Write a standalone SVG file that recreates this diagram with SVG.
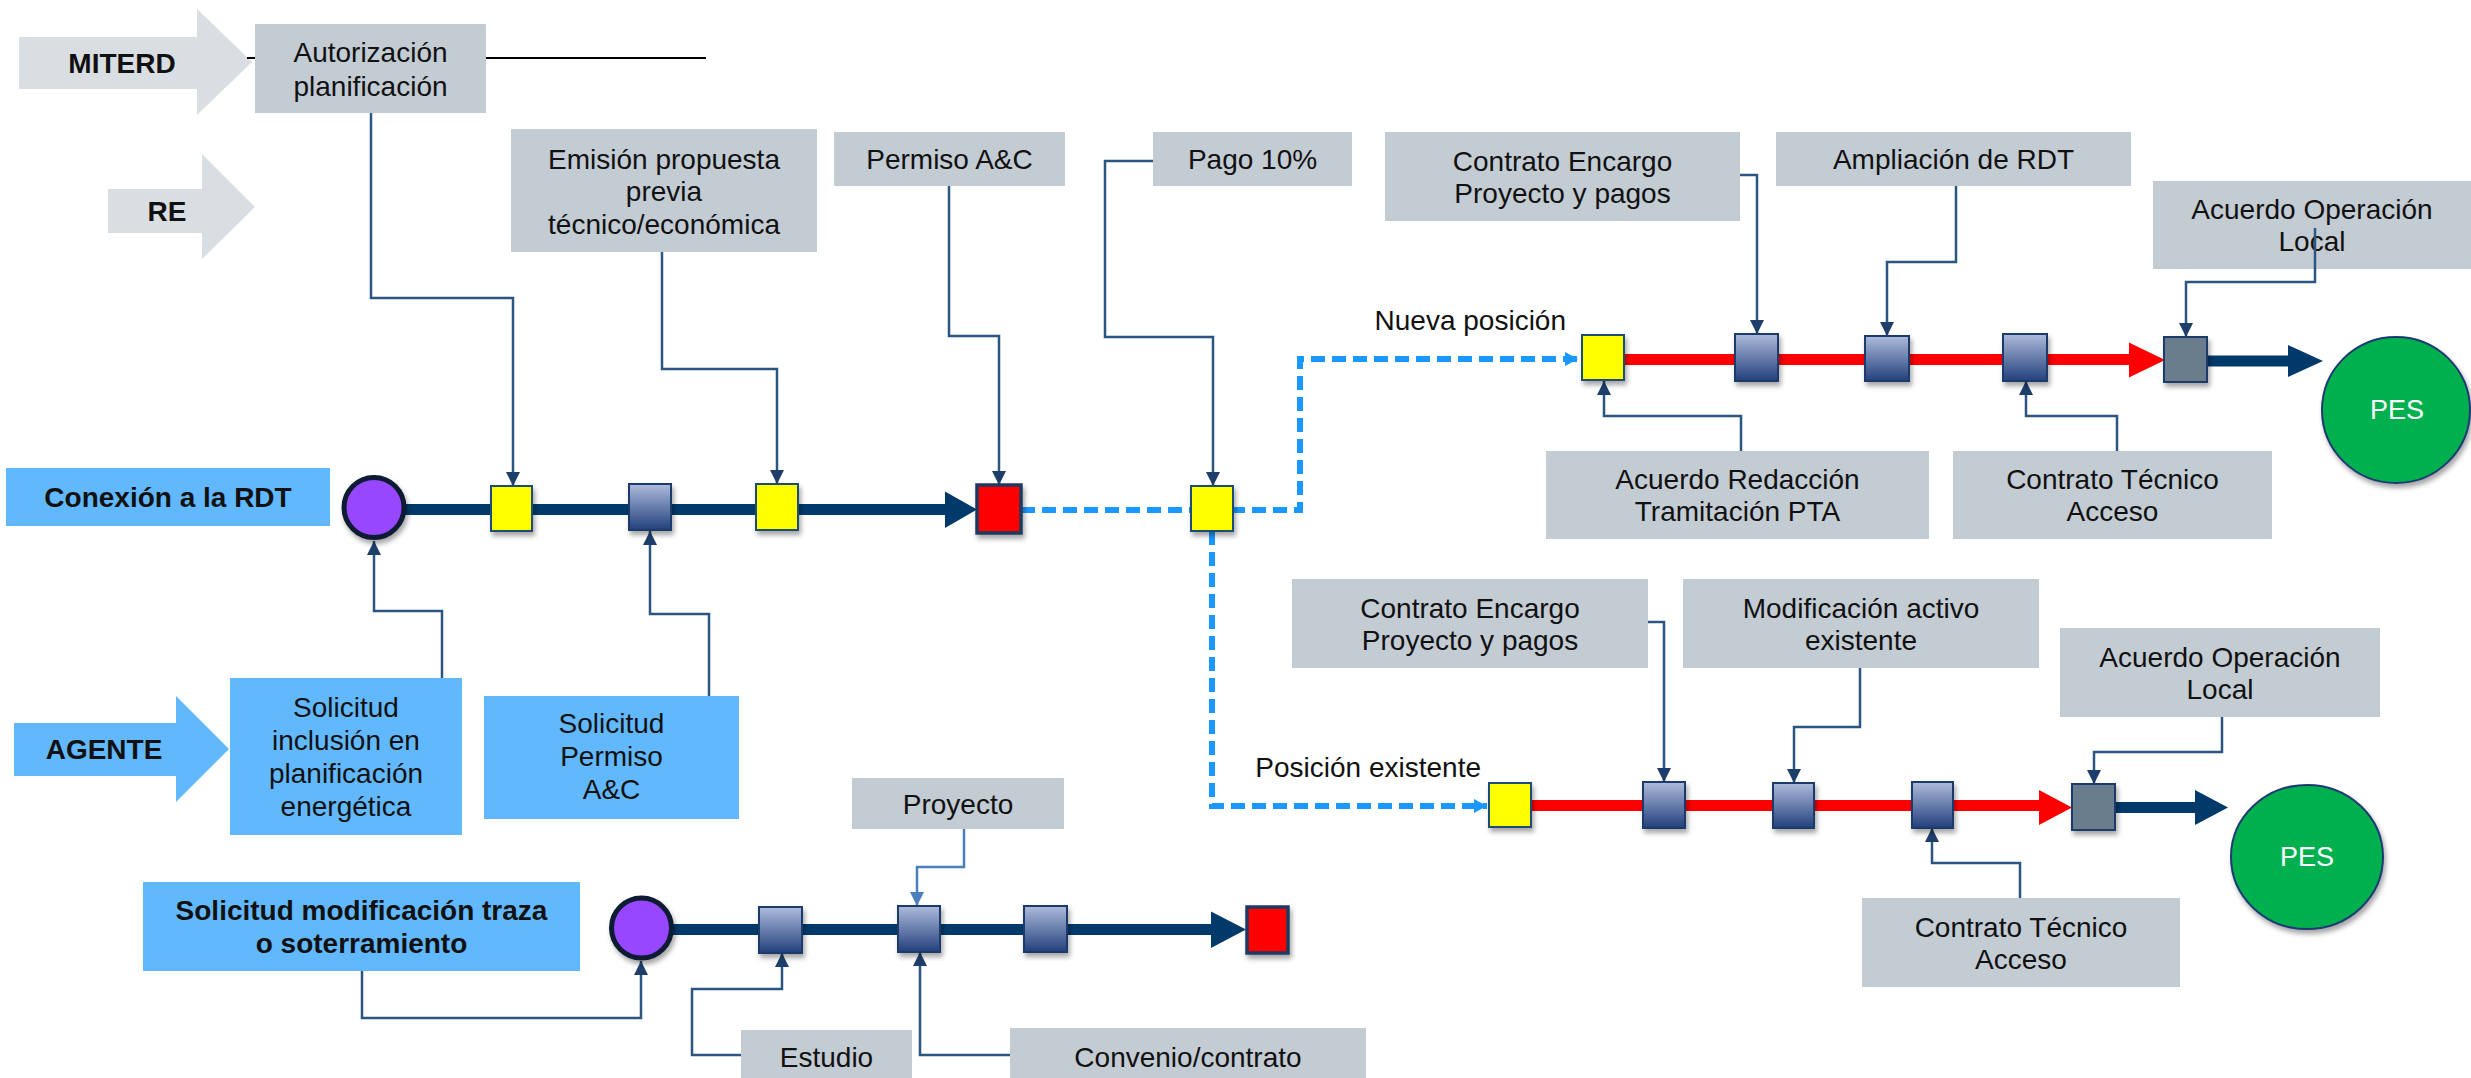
<svg xmlns="http://www.w3.org/2000/svg" width="2471" height="1078" viewBox="0 0 2471 1078">
<style>
text{font-family:"Liberation Sans",Arial,sans-serif;font-size:28px;fill:#111;text-anchor:middle}
.b{font-weight:bold}
.gbox{fill:#C3CBD3}
.bbox{fill:#62B8FD}
.garrow{fill:#D9DEE3}
.conn{fill:none;stroke:#2B5681;stroke-width:2.5;marker-end:url(#ah)}
.connl{fill:none;stroke:#4A7EBF;stroke-width:2.5;marker-end:url(#ahl)}
.yel{fill:#FFFF00;stroke:#1F4E79;stroke-width:2}
.gsq{fill:url(#gg);stroke:#1F3A6B;stroke-width:2}
.ssq{fill:#6A7D8D;stroke:#1F3A6B;stroke-width:2}
.rsq{fill:#FF0000;stroke:#1F3A60;stroke-width:3.5}
.navy{stroke:#003A6B;stroke-width:11;fill:none}
.red{stroke:#FF0000;stroke-width:11;fill:none}
.dash{stroke:#1A98FF;stroke-width:6;fill:none;stroke-dasharray:14 7}
</style>
<defs>
<linearGradient id="gg" x1="0" y1="0" x2="0" y2="1">
<stop offset="0" stop-color="#AEBBDC"/>
<stop offset="1" stop-color="#22407C"/>
</linearGradient>
<filter id="sh" x="-30%" y="-30%" width="160%" height="170%">
<feDropShadow dx="2" dy="4" stdDeviation="2.5" flood-color="#000" flood-opacity="0.35"/>
</filter>
<marker id="ah" markerUnits="userSpaceOnUse" markerWidth="16" markerHeight="16" refX="14" refY="7" orient="auto">
<path d="M0,0 L14,7 L0,14 z" fill="#1E3F6B"/>
</marker>
<marker id="ahl" markerUnits="userSpaceOnUse" markerWidth="16" markerHeight="16" refX="14" refY="7" orient="auto">
<path d="M0,0 L14,7 L0,14 z" fill="#4A7EBF"/>
</marker>
<marker id="ahd" markerUnits="userSpaceOnUse" markerWidth="16" markerHeight="16" refX="13" refY="7" orient="auto">
<path d="M0,0 L13,7 L0,14 z" fill="#1A98FF"/>
</marker>
</defs>

<!-- actor arrows -->
<g id="miterd">
<polygon class="garrow" points="19,37 197,37 197,9 252,62 197,115 197,89 19,89"/>
<text class="b" x="122" y="73">MITERD</text>
</g>
<g id="re">
<polygon class="garrow" points="108,189 202,189 202,154 255,207 202,259 202,233 108,233"/>
<text class="b" x="167" y="221">RE</text>
</g>
<g id="agente">
<polygon class="bbox" points="14,723 176,723 176,696 229,749 176,802 176,776 14,776"/>
<text class="b" x="104" y="759">AGENTE</text>
</g>

<line x1="247" y1="58" x2="706" y2="58" stroke="#000" stroke-width="1.8"/>

<!-- label boxes -->
<g id="autorizacion"><rect class="gbox" x="255" y="24" width="231" height="89"/>
<text x="370.5" y="62">Autorización</text><text x="370.5" y="96">planificación</text></g>
<g id="emision"><rect class="gbox" x="511" y="129" width="306" height="123"/>
<text x="664" y="168.5">Emisión propuesta</text><text x="664" y="201">previa</text><text x="664" y="233.5">técnico/económica</text></g>
<g id="permiso"><rect class="gbox" x="834" y="132" width="231" height="54"/>
<text x="949.5" y="169">Permiso A&amp;C</text></g>
<g id="pago"><rect class="gbox" x="1153" y="132" width="199" height="54"/>
<text x="1252.5" y="169">Pago 10%</text></g>
<g id="encargo1"><rect class="gbox" x="1385" y="132" width="355" height="89"/>
<text x="1562.5" y="170.5">Contrato Encargo</text><text x="1562.5" y="202.5">Proyecto y pagos</text></g>
<g id="ampliacion"><rect class="gbox" x="1776" y="132" width="355" height="54"/>
<text x="1953.5" y="169">Ampliación de RDT</text></g>
<g id="acuerdoop1"><rect class="gbox" x="2153" y="181" width="318" height="88"/>
<text x="2312" y="219">Acuerdo Operación</text><text x="2312" y="251">Local</text></g>
<g id="redaccion"><rect class="gbox" x="1546" y="451" width="383" height="88"/>
<text x="1737.5" y="489">Acuerdo Redacción</text><text x="1737.5" y="521">Tramitación PTA</text></g>
<g id="tecnico1"><rect class="gbox" x="1953" y="451" width="319" height="88"/>
<text x="2112.5" y="489">Contrato Técnico</text><text x="2112.5" y="521">Acceso</text></g>
<g id="encargo2"><rect class="gbox" x="1292" y="579" width="356" height="89"/>
<text x="1470" y="617.5">Contrato Encargo</text><text x="1470" y="649.5">Proyecto y pagos</text></g>
<g id="modificacion"><rect class="gbox" x="1683" y="579" width="356" height="89"/>
<text x="1861" y="617.5">Modificación activo</text><text x="1861" y="649.5">existente</text></g>
<g id="acuerdoop2"><rect class="gbox" x="2060" y="628" width="320" height="89"/>
<text x="2220" y="666.5">Acuerdo Operación</text><text x="2220" y="698.5">Local</text></g>
<g id="tecnico2"><rect class="gbox" x="1862" y="898" width="318" height="89"/>
<text x="2021" y="936.5">Contrato Técnico</text><text x="2021" y="968.5">Acceso</text></g>
<g id="proyecto"><rect class="gbox" x="852" y="778" width="212" height="51"/>
<text x="958" y="813.5">Proyecto</text></g>
<g id="estudio"><rect class="gbox" x="741" y="1030" width="171" height="50"/>
<text x="826.5" y="1067">Estudio</text></g>
<g id="convenio"><rect class="gbox" x="1010" y="1028" width="356" height="52"/>
<text x="1188" y="1067">Convenio/contrato</text></g>

<g id="conexion"><rect class="bbox" x="6" y="468" width="324" height="58"/>
<text class="b" x="168" y="507">Conexión a la RDT</text></g>
<g id="sol-inclusion"><rect class="bbox" x="230" y="678" width="232" height="157"/>
<text x="346" y="717">Solicitud</text><text x="346" y="750">inclusión en</text><text x="346" y="783">planificación</text><text x="346" y="816">energética</text></g>
<g id="sol-permiso"><rect class="bbox" x="484" y="696" width="255" height="123"/>
<text x="611.5" y="733">Solicitud</text><text x="611.5" y="766">Permiso</text><text x="611.5" y="799">A&amp;C</text></g>
<g id="sol-modificacion"><rect class="bbox" x="143" y="882" width="437" height="89"/>
<text class="b" x="361.5" y="920">Solicitud modificación traza</text><text class="b" x="361.5" y="953">o soterramiento</text></g>

<!-- connectors -->
<g id="connectors">
<path class="navy" d="M400,509.5 H948"/>
<polygon points="945,491.5 977,509.5 945,528" fill="#003A6B"/>
<path class="dash" d="M1021,510 H1300 V359 H1578" marker-end="url(#ahd)"/>
<path class="dash" d="M1212,531 V806 H1487" marker-end="url(#ahd)"/>
<path class="red" d="M1624,359.5 H2132"/>
<polygon points="2129,342.5 2165,360 2129,377.5" fill="#FF0000"/>
<path class="navy" d="M2207,361 H2290"/>
<polygon points="2288,345 2323,361 2288,377" fill="#003A6B"/>
<path class="red" d="M1531,805.5 H2041"/>
<polygon points="2039,790 2072,807.5 2039,825" fill="#FF0000"/>
<path class="navy" d="M2115,807.5 H2197"/>
<polygon points="2195,790 2228,807.5 2195,825" fill="#003A6B"/>
<path class="navy" d="M668,929.5 H1214"/>
<polygon points="1211,911.5 1246,929.5 1211,948" fill="#003A6B"/>

<polyline class="conn" points="371,113 371,298 513,298 513,486"/>
<polyline class="conn" points="662,252 662,369 777,369 777,484"/>
<polyline class="conn" points="949,186 949,336 999,336 999,485"/>
<polyline class="conn" points="1153,161 1105,161 1105,337 1213,337 1213,486"/>
<polyline class="conn" points="442,678 442,611 374,611 374,541"/>
<polyline class="conn" points="709,696 709,614 650,614 650,531"/>
<polyline class="conn" points="1740,175 1757,175 1757,334"/>
<polyline class="conn" points="1956,186 1956,262 1887,262 1887,336"/>
<polyline class="conn" points="2315,228 2315,282 2186,282 2186,337"/>
<polyline class="conn" points="1741,451 1741,416 1604,416 1604,381"/>
<polyline class="conn" points="2117,451 2117,416 2026,416 2026,381"/>
<polyline class="conn" points="1648,622 1664,622 1664,782"/>
<polyline class="conn" points="1860,668 1860,727 1794,727 1794,783"/>
<polyline class="conn" points="2222,717 2222,752 2094,752 2094,784"/>
<polyline class="conn" points="2020,898 2020,863 1932,863 1932,828"/>
<polyline class="conn" points="362,971 362,1018 641,1018 641,961"/>
<polyline class="conn" points="741,1055 692,1055 692,989 782,989 782,953"/>
<polyline class="conn" points="1010,1055 920,1055 920,952"/>
<polyline class="connl" points="964,829 964,867 917,867 917,906"/>
</g>

<!-- milestones -->
<g id="start1"><circle cx="374" cy="507.5" r="30" fill="#9747FF" stroke="#0F1A33" stroke-width="5" filter="url(#sh)"/></g>
<g id="start2"><circle cx="641.5" cy="928" r="30" fill="#9747FF" stroke="#0F1A33" stroke-width="5" filter="url(#sh)"/></g>
<g id="y1"><rect class="yel" x="491" y="486" width="41" height="45" filter="url(#sh)"/></g>
<g id="g1"><rect class="gsq" x="629" y="484" width="42" height="46" filter="url(#sh)"/></g>
<g id="y2"><rect class="yel" x="756" y="484" width="42" height="46" filter="url(#sh)"/></g>
<g id="r1"><rect class="rsq" x="977" y="485" width="44" height="48" filter="url(#sh)"/></g>
<g id="y3"><rect class="yel" x="1191" y="486" width="42" height="45" filter="url(#sh)"/></g>
<g id="y4"><rect class="yel" x="1582" y="335" width="42" height="45" filter="url(#sh)"/></g>
<g id="g5"><rect class="gsq" x="1735" y="334" width="43" height="47" filter="url(#sh)"/></g>
<g id="g6"><rect class="gsq" x="1865" y="336" width="44" height="45" filter="url(#sh)"/></g>
<g id="g7"><rect class="gsq" x="2003" y="334" width="44" height="47" filter="url(#sh)"/></g>
<g id="s1"><rect class="ssq" x="2164" y="337" width="43" height="45" filter="url(#sh)"/></g>
<g id="y5"><rect class="yel" x="1489" y="783" width="42" height="44" filter="url(#sh)"/></g>
<g id="g8"><rect class="gsq" x="1643" y="782" width="42" height="46" filter="url(#sh)"/></g>
<g id="g9"><rect class="gsq" x="1773" y="783" width="41" height="45" filter="url(#sh)"/></g>
<g id="g10"><rect class="gsq" x="1912" y="782" width="41" height="46" filter="url(#sh)"/></g>
<g id="s2"><rect class="ssq" x="2072" y="784" width="43" height="46" filter="url(#sh)"/></g>
<g id="g11"><rect class="gsq" x="759" y="907" width="43" height="46" filter="url(#sh)"/></g>
<g id="g12"><rect class="gsq" x="898" y="906" width="42" height="46" filter="url(#sh)"/></g>
<g id="g13"><rect class="gsq" x="1024" y="906" width="43" height="46" filter="url(#sh)"/></g>
<g id="r2"><rect class="rsq" x="1247" y="907" width="41" height="46" filter="url(#sh)"/></g>

<g id="pes1"><ellipse cx="2396" cy="410" rx="74" ry="73" fill="#00B050" stroke="#1F3A70" stroke-width="2" filter="url(#sh)"/>
<text x="2397" y="419" style="fill:#fff;font-size:27px">PES</text></g>
<g id="pes2"><ellipse cx="2307" cy="857" rx="76" ry="72" fill="#00B050" stroke="#1F3A70" stroke-width="2" filter="url(#sh)"/>
<text x="2307" y="866" style="fill:#fff;font-size:27px">PES</text></g>

<text x="1566" y="330" style="text-anchor:end">Nueva posición</text>
<text x="1481" y="777" style="text-anchor:end">Posición existente</text>
</svg>
